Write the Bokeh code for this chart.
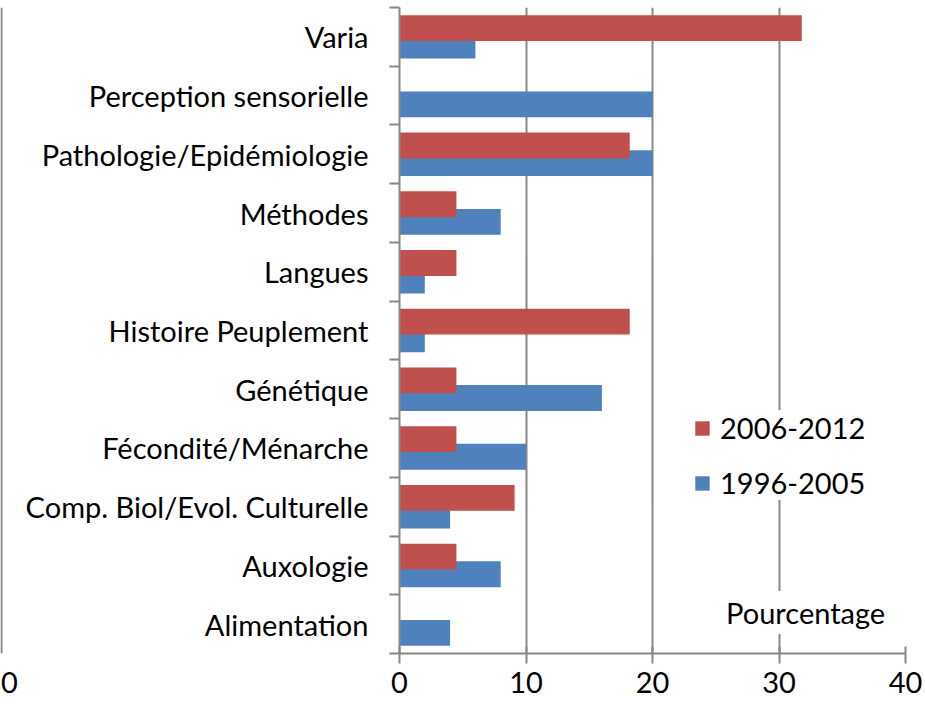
from bokeh.plotting import figure
from bokeh.models import (FactorRange, Range1d, LinearAxis, CategoricalAxis, FixedTicker,
                          ColumnDataSource, Legend, LegendItem, Label, Span)
from bokeh.layouts import row
from bokeh.transform import dodge
from bokeh.embed import file_html
from bokeh.resources import INLINE

categories = ["Alimentation", "Auxologie", "Comp. Biol/Evol. Culturelle", "Fécondité/Ménarche",
              "Génétique", "Histoire Peuplement", "Langues", "Méthodes",
              "Pathologie/Epidémiologie", "Perception sensorielle", "Varia"]
values_2006_2012 = [0, 4.5, 9.1, 4.5, 4.5, 18.2, 4.5, 4.5, 18.2, 0, 31.8]
values_1996_2005 = [4, 8, 4, 10, 16, 2, 2, 8, 20, 20, 6]
x_ticks = [0, 10, 20, 30, 40]
series_names = ["2006-2012", "1996-2005"]
axis_title = "Pourcentage"

RED = "#C0504D"
BLUE = "#4F81BD"
GRAY = "#888888"
FONT = "Lato"
FS = "29px"
H = 704
LEFT_W = 20

def bottom_axis(ticks, **kw):
    return LinearAxis(ticker=FixedTicker(ticks=ticks), axis_line_width=2,
                      major_tick_line_width=2, major_tick_out=10, major_tick_in=7,
                      minor_tick_line_color=None, major_label_standoff=8,
                      major_label_text_font=FONT, major_label_text_font_size=FS,
                      major_label_text_color="black", **kw)

# ---- thin left figure (outer vertical line with its "0") ----
lf = figure(width=LEFT_W, height=H, x_range=Range1d(-1, LEFT_W - 1), y_range=Range1d(0, 1),
            output_backend="svg", toolbar_location=None, x_axis_location=None,
            y_axis_location=None, min_border_left=0, min_border_right=0,
            min_border_top=7, min_border_bottom=51)
lf.outline_line_color = None
lf.grid.visible = False
lf.add_layout(Span(location=0, dimension="height", line_color=GRAY, line_width=2))
lax = bottom_axis([7], axis_line_color=None, major_tick_line_color=None,
                  major_label_overrides={7: "0"})
lf.add_layout(lax, "below")

# ---- main figure ----
src = ColumnDataSource(dict(cat=categories, a=values_2006_2012, b=values_1996_2005))

p = figure(width=925 - LEFT_W, height=H, y_range=FactorRange(*categories), x_range=Range1d(0, 40),
           output_backend="svg", toolbar_location=None, y_axis_location=None,
           x_axis_location=None, min_border_left=399 - LEFT_W, min_border_right=20,
           min_border_top=7, min_border_bottom=51)
p.outline_line_color = None
p.ygrid.visible = False
p.xgrid.ticker = FixedTicker(ticks=x_ticks)
p.xgrid.grid_line_color = GRAY
p.xgrid.grid_line_width = 2

# ticks at category boundaries (synthetic coordinates of the factor range)
tick_axis = LinearAxis(ticker=FixedTicker(ticks=list(range(len(categories) + 1))),
                       major_label_overrides={i: "" for i in range(len(categories) + 1)},
                       major_label_standoff=0, major_tick_out=10, major_tick_in=0,
                       major_tick_line_color=GRAY, major_tick_line_width=2,
                       axis_line_color=GRAY, axis_line_width=2,
                       minor_tick_line_color=None, major_label_text_font_size="1px")
p.add_layout(tick_axis, "left")

cat_axis = CategoricalAxis(axis_line_color=None, major_tick_line_color=None,
                           major_label_standoff=15, major_label_text_font=FONT,
                           major_label_text_font_size=FS, major_label_text_color="black")
p.add_layout(cat_axis, "left")

p.add_layout(bottom_axis(x_ticks, axis_line_color=GRAY, major_tick_line_color=GRAY), "below")

rb = p.hbar(y=dodge("cat", -0.15, range=p.y_range), left=0, right="b", height=0.44,
            source=src, fill_color=BLUE, line_color=None)
ra = p.hbar(y=dodge("cat", 0.15, range=p.y_range), left=0, right="a", height=0.44,
            source=src, fill_color=RED, line_color=None)

legend = Legend(items=[LegendItem(label=series_names[0], renderers=[ra]),
                       LegendItem(label=series_names[1], renderers=[rb])],
                location=(294, 153), padding=10, spacing=20, border_line_color=None,
                background_fill_color="white", background_fill_alpha=1.0,
                glyph_width=18, glyph_height=18, label_text_font=FONT,
                label_text_font_size=FS, label_text_color="black", label_standoff=9, margin=0)
p.add_layout(legend, "center")

p.add_layout(Label(x=25.5, y=41, y_units="screen", text=axis_title, text_font=FONT,
                   text_font_size=FS, text_color="black", text_baseline="middle",
                   background_fill_color="white", padding=4))

layout = row(lf, p, spacing=0)
open("out.html", "w").write(file_html(layout, INLINE))
